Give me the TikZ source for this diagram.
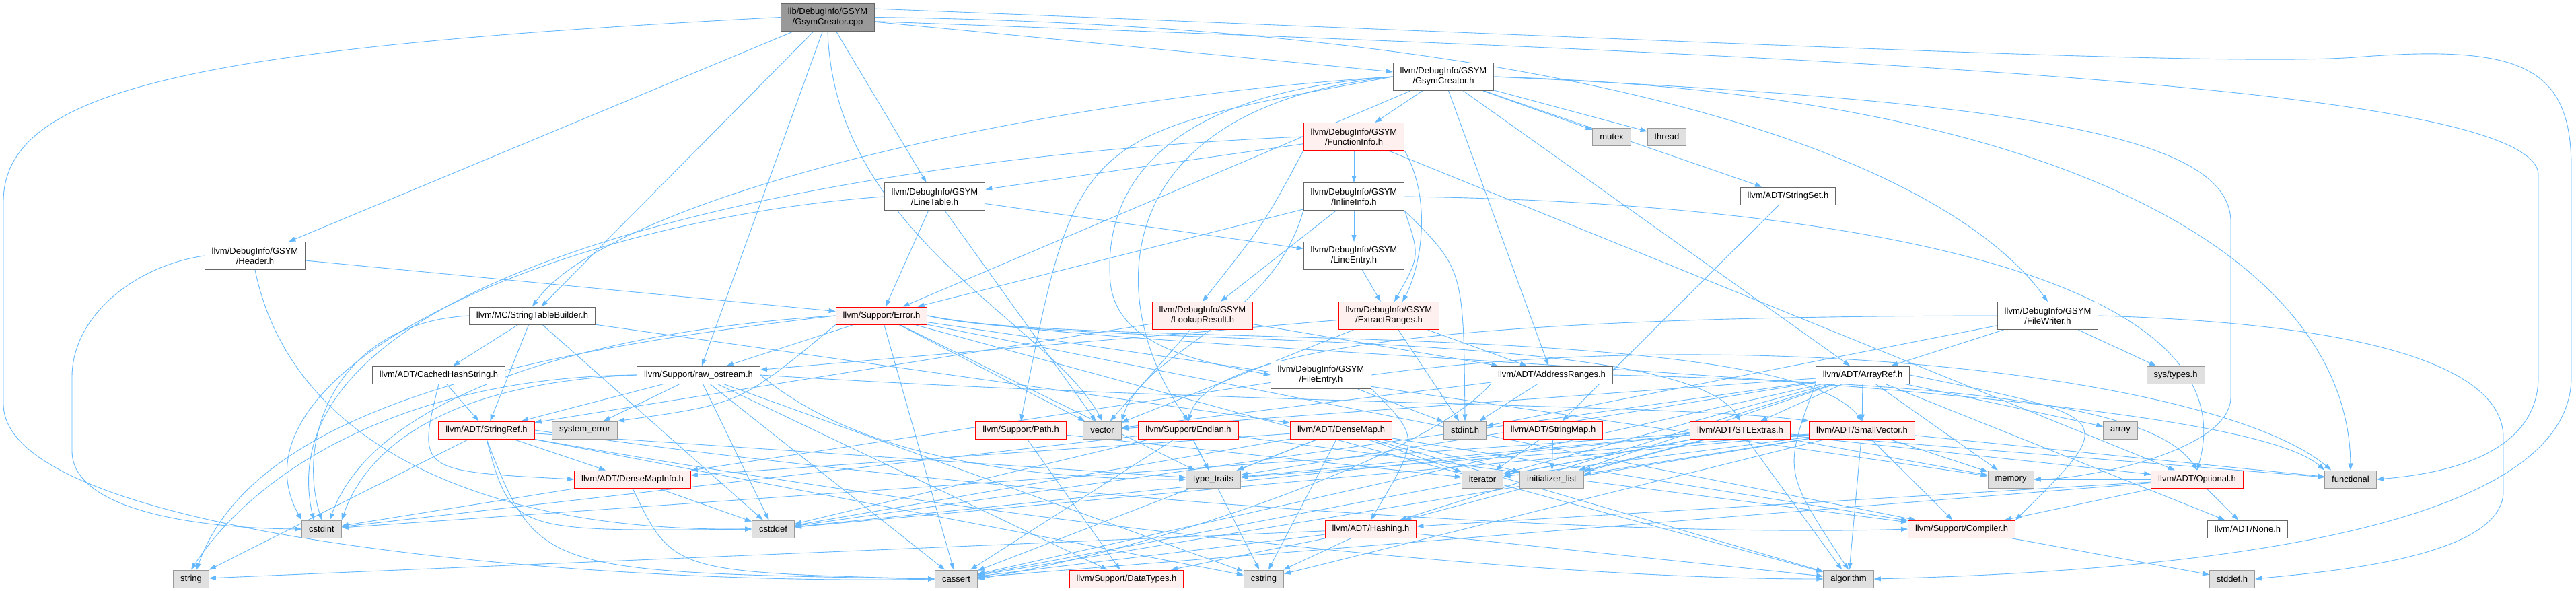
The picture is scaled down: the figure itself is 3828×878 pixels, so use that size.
\documentclass[tikz,border=0pt]{standalone}
\usepackage{fontspec}
\setmainfont{Liberation Sans}
\usetikzlibrary{arrows.meta,backgrounds}
\definecolor{linkblue}{HTML}{63B8FF}
\definecolor{rootgrey}{HTML}{999999}
\definecolor{sysgrey}{HTML}{E0E0E0}
\definecolor{truncfill}{HTML}{FFF0F0}
\definecolor{framegrey}{HTML}{666666}

\begin{document}
\begin{tikzpicture}[x=1pt,y=-1pt,
  file/.style={draw,rectangle,line width=1pt,inner xsep=10.5pt,inner ysep=2pt,
    minimum height=26pt,align=center,font=\fontsize{13}{15}\selectfont},
  twoline/.style={minimum height=41pt},
  local/.style={fill=white,draw=framegrey},
  sys/.style={fill=sysgrey,draw=rootgrey},
  trunc/.style={fill=truncfill,draw=red},
  root/.style={fill=rootgrey,draw=framegrey},
  dep/.style={draw=linkblue,line width=0.9pt,-{Triangle[length=10pt,width=7pt]}}]

  \useasboundingbox (0,0) rectangle (3828,878);

  % top rows
  \node[file,twoline,root]  (cpp)      at (1230,25.5) {lib/DebugInfo/GSYM\\/GsymCreator.cpp};
  \node[file,twoline,local] (gch)      at (2145,114)  {llvm/DebugInfo/GSYM\\/GsymCreator.h};
  \node[file,twoline,trunc] (funcinfo) at (2012,203)  {llvm/DebugInfo/GSYM\\/FunctionInfo.h};
  \node[file,sys]           (mutex)    at (2395,203)  {mutex};
  \node[file,sys]           (thread)   at (2477,203)  {thread};
  \node[file,twoline,local] (linetable)  at (1389,292) {llvm/DebugInfo/GSYM\\/LineTable.h};
  \node[file,twoline,local] (inlineinfo) at (2012,292) {llvm/DebugInfo/GSYM\\/InlineInfo.h};
  \node[file,local]         (stringset)  at (2657,291) {llvm/ADT/StringSet.h};
  \node[file,twoline,local] (header)     at (379,380)  {llvm/DebugInfo/GSYM\\/Header.h};
  \node[file,twoline,local] (lineentry)  at (2012,380) {llvm/DebugInfo/GSYM\\/LineEntry.h};

  % middle rows
  \node[file,local]         (stb)           at (791,469)  {llvm/MC/StringTableBuilder.h};
  \node[file,trunc]         (error)         at (1310,469) {llvm/Support/Error.h};
  \node[file,twoline,trunc] (lookupresult)  at (1787,469) {llvm/DebugInfo/GSYM\\/LookupResult.h};
  \node[file,twoline,trunc] (extractranges) at (2064,469) {llvm/DebugInfo/GSYM\\/ExtractRanges.h};
  \node[file,twoline,local] (filewriter)    at (3043,469) {llvm/DebugInfo/GSYM\\/FileWriter.h};
  \node[file,local]         (cachedhash) at (652,557)  {llvm/ADT/CachedHashString.h};
  \node[file,local]         (rawos)      at (1038,557) {llvm/Support/raw\_ostream.h};
  \node[file,twoline,local] (fileentry)  at (1963,557) {llvm/DebugInfo/GSYM\\/FileEntry.h};
  \node[file,local]         (addrranges) at (2306,557) {llvm/ADT/AddressRanges.h};
  \node[file,local]         (arrayref)   at (2768,557) {llvm/ADT/ArrayRef.h};
  \node[file,sys]           (systypes)   at (3233,557) {sys/types.h};
  \node[file,trunc] (stringref)   at (723,639)  {llvm/ADT/StringRef.h};
  \node[file,sys]   (syserror)    at (869,639)  {system\_error};
  \node[file,trunc] (supportpath) at (1517,639) {llvm/Support/Path.h};
  \node[file,sys]   (vector)      at (1638,639) {vector};
  \node[file,trunc] (endian)      at (1766,639) {llvm/Support/Endian.h};
  \node[file,trunc] (densemap)    at (1993,639) {llvm/ADT/DenseMap.h};
  \node[file,sys]   (stdint)      at (2177,639) {stdint.h};
  \node[file,trunc] (stringmap)   at (2308,639) {llvm/ADT/StringMap.h};
  \node[file,trunc] (stlextras)   at (2586,639) {llvm/ADT/STLExtras.h};
  \node[file,trunc] (smallvector) at (2767,639) {llvm/ADT/SmallVector.h};
  \node[file,sys]   (array)       at (3151,639) {array};

  % bottom rows
  \node[file,trunc] (densemapinfo) at (940,712)  {llvm/ADT/DenseMapInfo.h};
  \node[file,sys]   (typetraits)   at (1803,712) {type\_traits};
  \node[file,sys]   (iterator)     at (2203,712) {iterator};
  \node[file,sys]   (initlist)     at (2306,712) {initializer\_list};
  \node[file,sys]   (memory)       at (2988,712) {memory};
  \node[file,trunc] (optional)     at (3265,712) {llvm/ADT/Optional.h};
  \node[file,sys]   (functional)   at (3493,712) {functional};
  \node[file,sys]   (cstdint)  at (478,786)  {cstdint};
  \node[file,sys]   (cstddef)  at (1149,786) {cstddef};
  \node[file,trunc] (hashing)  at (2037,786) {llvm/ADT/Hashing.h};
  \node[file,trunc] (compiler) at (2915,786) {llvm/Support/Compiler.h};
  \node[file,local] (noneh)    at (3340,786) {llvm/ADT/None.h};
  \node[file,sys]   (string)    at (284,860)  {string};
  \node[file,sys]   (cassert)   at (1421,860) {cassert};
  \node[file,trunc] (datatypes) at (1674,860) {llvm/Support/DataTypes.h};
  \node[file,sys]   (cstring)   at (1878,860) {cstring};
  \node[file,sys]   (algorithm) at (2747,860) {algorithm};
  \node[file,sys]   (stddef)    at (3317,860) {stddef.h};

  \begin{scope}[on background layer]
    \fill[white] (0,0) rectangle (3828,878);

    % short includes, grouped by the including file
    \foreach \t in {gch,linetable,header,stb,rawos}
      \draw[dep] (cpp) -- (\t);
    \foreach \t in {mutex,thread,addrranges,arrayref,stringset,funcinfo,error}
      \draw[dep] (gch) -- (\t);
    \foreach \t in {inlineinfo,linetable,optional}
      \draw[dep] (funcinfo) -- (\t);
    \foreach \t in {lineentry,lookupresult,error}
      \draw[dep] (inlineinfo) -- (\t);
    \draw[dep] (lineentry) -- (extractranges);
    \foreach \t in {lineentry,error,vector}
      \draw[dep] (linetable) -- (\t);
    \draw[dep] (header) -- (error);
    \foreach \t in {cachedhash,stringref,densemap,cstddef}
      \draw[dep] (stb) -- (\t);
    \draw[dep] (cachedhash) -- (stringref);
    \foreach \t in {densemapinfo,cstring,string,typetraits}
      \draw[dep] (stringref) -- (\t);
    \foreach \t in {stringref,datatypes,cassert,cstddef,cstring,syserror}
      \draw[dep] (rawos) -- (\t);
    \foreach \t in {rawos,compiler,algorithm,cassert,memory,typetraits,vector}
      \draw[dep] (error) -- (\t);
    \foreach \t in {addrranges,stringref,vector}
      \draw[dep] (lookupresult) -- (\t);
    \foreach \t in {addrranges,rawos,stdint,vector}
      \draw[dep] (extractranges) -- (\t);
    \foreach \t in {densemapinfo,stdint}
      \draw[dep] (fileentry) -- (\t);
    \foreach \t in {stdint,vector}
      \draw[dep] (addrranges) -- (\t);
    \foreach \t in {arrayref,stdint,systypes}
      \draw[dep] (filewriter) -- (\t);
    \foreach \t in {hashing,noneh,smallvector,stlextras,array,cassert,cstddef,initlist,iterator,memory,typetraits,vector}
      \draw[dep] (arrayref) -- (\t);
    \draw[dep] (stringset) -- (stringmap);
    \foreach \t in {initlist,iterator}
      \draw[dep] (stringmap) -- (\t);
    \foreach \t in {datatypes,iterator}
      \draw[dep] (supportpath) -- (\t);
    \foreach \t in {compiler,cassert,cstddef,cstdint,cstring,typetraits}
      \draw[dep] (endian) -- (\t);
    \foreach \t in {densemapinfo,compiler,algorithm,cassert,cstddef,cstring,initlist,iterator,typetraits}
      \draw[dep] (densemap) -- (\t);
    \foreach \t in {cstddef,cstdint}
      \draw[dep] (densemapinfo) -- (\t);
    \foreach \t in {hashing,optional,algorithm,cassert,cstddef,cstdint,functional,initlist,iterator,memory,typetraits}
      \draw[dep] (stlextras) -- (\t);
    \foreach \t in {compiler,algorithm,cassert,cstddef,cstring,functional,initlist,iterator,memory,typetraits}
      \draw[dep] (smallvector) -- (\t);
    \foreach \t in {hashing,noneh,compiler,cassert,memory}
      \draw[dep] (optional) -- (\t);
    \foreach \t in {datatypes,algorithm,cassert,cstring,string}
      \draw[dep] (hashing) -- (\t);
    \draw[dep] (compiler) -- (stddef);

    % long includes routed round the other files
    \draw[dep] (cpp.west) .. controls (300,70) and (5,130) .. (5,300) -- (5,600)
      .. controls (5,800) and (900,870) .. (cassert.west);
    \draw[dep] (cpp.10) .. controls (2500,60) and (3300,100) .. (3500,85)
      .. controls (3750,65) and (3821,100) .. (3821,250) -- (3821,560)
      .. controls (3821,800) and (3200,850) .. (algorithm.east);
    \draw[dep] (cpp.-5) .. controls (2600,80) and (3772,120) .. (3772,260) -- (3772,560)
      .. controls (3772,680) and (3620,705) .. (functional.east);
    \draw[dep] (cpp.east) .. controls (2400,40) and (2900,250) .. (filewriter.north);
    \draw[dep] (cpp.south) .. controls (1240,350) and (1560,480) .. (vector.north);
    \draw[dep] (gch.east) .. controls (3100,140) and (3490,400) .. (functional.north);
    \draw[dep] (gch.east) .. controls (3000,150) and (3315,200) .. (3315,330) -- (3315,590)
      .. controls (3315,670) and (3100,712) .. (memory.east);
    \draw[dep] (gch.west) .. controls (1500,150) and (900,300) .. (stb.north);
    \draw[dep] (gch.west) .. controls (1640,160) and (1640,450) .. (endian.north);
    \draw[dep] (gch.west) .. controls (1700,140) and (1640,300) .. (1650,420)
      .. controls (1660,520) and (1800,540) .. (fileentry.west);
    \draw[dep] (gch.west) .. controls (1600,200) .. (supportpath.north);
    \draw[dep] (funcinfo.south east) .. controls (2130,300) and (2110,400) .. ([xshift=20pt]extractranges.north);
    \draw[dep] (funcinfo.south west) .. controls (1880,330) .. (lookupresult.north);
    \draw[dep] (funcinfo.west) .. controls (1300,230) and (380,380) .. ([xshift=-12pt]cstdint.north);
    \draw[dep] (inlineinfo.south east) .. controls (2110,380) .. ([xshift=8pt]extractranges.north);
    \draw[dep] (inlineinfo.south east) .. controls (2175,400) .. (stdint.north);
    \draw[dep] (inlineinfo.south west) .. controls (1890,480) and (1700,520) .. (vector.north east);
    \draw[dep] (inlineinfo.east) .. controls (2700,300) and (3350,400) .. (optional.north);
    \draw[dep] (linetable.west) .. controls (800,330) and (330,560) .. (cstdint.north west);
    \draw[dep] (header.west) .. controls (200,395) and (107,470) .. (107,560) -- (107,670)
      .. controls (107,760) and (300,785) .. (cstdint.west);
    \draw[dep] (header.south) .. controls (430,650) and (700,790) .. (cstddef.west);
    \draw[dep] (stb.west) .. controls (500,480) and (440,650) .. (cstdint.north);
    \draw[dep] (cachedhash.south) .. controls (620,700) .. (densemapinfo.west);
    \draw[dep] (stringref.east) .. controls (1500,740) and (2400,800) .. (compiler.west);
    \draw[dep] (stringref.south east) .. controls (1400,760) and (2200,860) .. (algorithm.west);
    \draw[dep] (stringref.south) .. controls (800,850) .. (cassert.west);
    \draw[dep] (stringref.south) .. controls (760,790) .. (cstddef.west);
    \draw[dep] (rawos.east) .. controls (1800,600) and (2500,600) .. (smallvector.north west);
    \draw[dep] (rawos.west) .. controls (640,570) and (540,680) .. (cstdint.north east);
    \draw[dep] (rawos.west) .. controls (600,560) and (380,700) .. (string.north);
    \draw[dep] (rawos.east) .. controls (1300,700) and (1600,712) .. (typetraits.west);
    \draw[dep] (error.east) .. controls (1600,520) and (2500,480) .. (stlextras.north);
    \draw[dep] (error.east) .. controls (1600,520) and (2650,470) .. (smallvector.north);
    \draw[dep] (error.west) .. controls (900,490) and (560,580) .. ([xshift=12pt]cstdint.north);
    \draw[dep] (error.west) .. controls (800,520) and (380,600) .. ([xshift=8pt]string.north);
    \draw[dep] (error.east) .. controls (1700,530) and (3300,560) .. (functional.north west);
    \draw[dep] (error.south west) .. controls (1100,600) .. (syserror.north east);
    \draw[dep] (fileentry.south east) .. controls (2110,650) .. (hashing.north);
    \draw[dep] (fileentry.east) .. controls (2600,480) and (3300,560) .. ([xshift=10pt]functional.north west);
    \draw[dep] (addrranges.east) .. controls (2900,570) and (3200,600) .. (optional.north);
    \draw[dep] (addrranges.south west) .. controls (2120,680) and (1700,820) .. (cassert.east);
    \draw[dep] (filewriter.west) .. controls (2300,470) and (1800,500) .. (endian.north);
    \draw[dep] (filewriter.east) .. controls (3500,480) and (3720,540) .. (3720,650) -- (3720,730)
      .. controls (3720,830) and (3450,850) .. (stddef.east);
    \draw[dep] (arrayref.east) .. controls (3150,620) .. (compiler.north east);
    \draw[dep] (arrayref.south west) .. controls (2650,700) .. (algorithm.north);
    \draw[dep] (densemapinfo.south) .. controls (1000,850) .. (cassert.west);
  \end{scope}
\end{tikzpicture}
\end{document}
